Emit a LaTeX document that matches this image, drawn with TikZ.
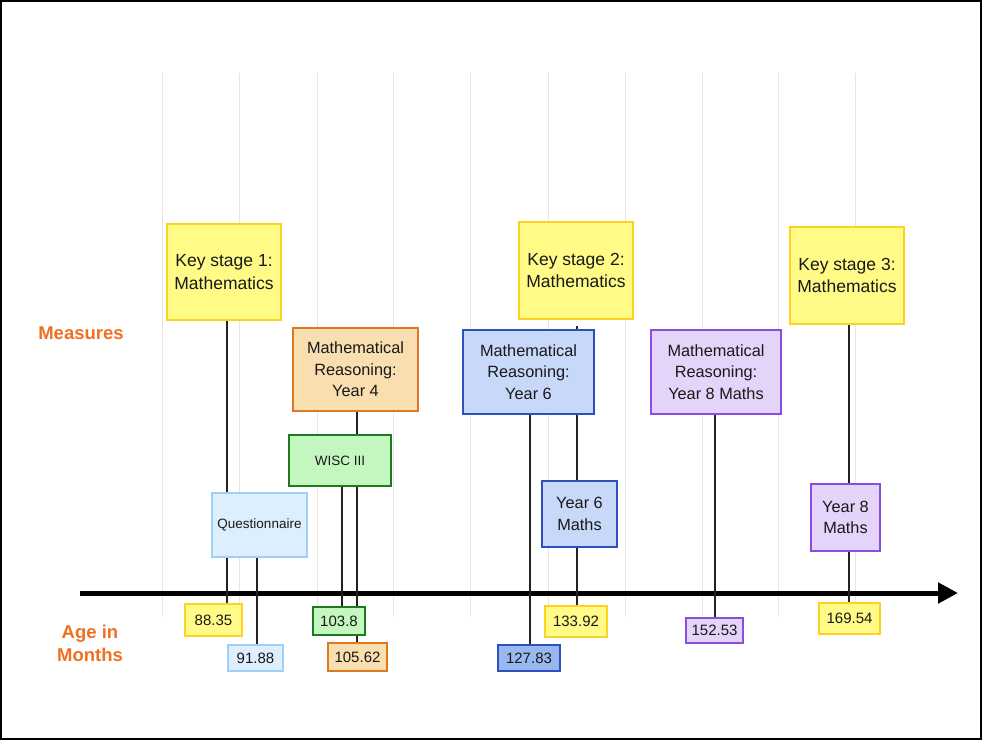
\documentclass[tikz,border=0pt]{standalone}
\usepackage{fontspec}
\setmainfont{Liberation Sans}
\usetikzlibrary{arrows.meta}
\pgfdeclarelayer{gridlayer}
\pgfdeclarelayer{background}
\pgfsetlayers{gridlayer,background,main}
\definecolor{yfill}{HTML}{FFFB86}
\definecolor{ydraw}{HTML}{FFD21F}
\definecolor{ofill}{HTML}{F9DFB0}
\definecolor{odraw}{HTML}{E07820}
\definecolor{gfill}{HTML}{C4F7C0}
\definecolor{gdraw}{HTML}{1E7A1E}
\definecolor{qfill}{HTML}{DDEEFF}
\definecolor{qdraw}{HTML}{9ED0F8}
\definecolor{bfill}{HTML}{C8D8F8}
\definecolor{bdraw}{HTML}{2E4FBF}
\definecolor{bdark}{HTML}{9AB8F0}
\definecolor{pfill}{HTML}{E4D4FA}
\definecolor{pdraw}{HTML}{8A4DE0}
\definecolor{otext}{HTML}{F07020}
\definecolor{gridc}{HTML}{E6E6E6}
\definecolor{linec}{HTML}{222222}
\tikzset{
  box/.style={draw, line width=1.5pt, inner sep=0pt, align=center, text=black!90},
  yellowbox/.style={box, fill=yfill, draw=ydraw},
  orangebox/.style={box, fill=ofill, draw=odraw},
  greenbox/.style={box, fill=gfill, draw=gdraw},
  qbox/.style={box, fill=qfill, draw=qdraw},
  bluebox/.style={box, fill=bfill, draw=bdraw},
  darkbluebox/.style={box, fill=bdark, draw=bdraw},
  purplebox/.style={box, fill=pfill, draw=pdraw},
  big/.style={font=\fontsize{17.5}{22.5}\selectfont},
  mid/.style={font=\fontsize{16.3}{21.5}\selectfont},
  small/.style={font=\fontsize{13.5}{16}\selectfont},
  num/.style={font=\fontsize{15}{18}\selectfont},
  stem/.style={draw=linec, line width=2pt},
  gridline/.style={draw=gridc, line width=1pt},
  axisline/.style={draw=black, line width=5pt, -{Triangle[length=20pt,width=20pt]}},
  sidelabel/.style={text=otext, font=\bfseries\fontsize{18.5}{23}\selectfont, align=center}
}
\begin{document}
\begin{tikzpicture}[x=1pt,y=-1pt]
\useasboundingbox (0,0) rectangle (982,740);
\begin{pgfonlayer}{gridlayer}
\fill[white] (0,0) rectangle (982,740);
\foreach \gx in {162,239,317,393,470,548,625,702,778,855}
  \draw[gridline] (\gx,73) -- (\gx,617);
\end{pgfonlayer}

% boxes
\node[yellowbox, big, minimum width=114, minimum height=96] (ks1) at (224,272) {Key stage 1:\\Mathematics};
\node[orangebox, mid, minimum width=125, minimum height=83] (mr4) at (355.5,369.5) {Mathematical\\Reasoning:\\Year 4};
\node[greenbox, small, minimum width=102, minimum height=51] (wisc) at (340,460.5) {WISC III};
\node[qbox, small, minimum width=95, minimum height=64] (quest) at (259.5,525) {Questionnaire};
\node[yellowbox, big, minimum width=114, minimum height=97] (ks2) at (576,270.5) {Key stage 2:\\Mathematics};
\node[bluebox, mid, minimum width=131, minimum height=84] (mr6) at (528.5,372) {Mathematical\\Reasoning:\\Year 6};
\node[bluebox, mid, minimum width=75, minimum height=66] (y6m) at (579.5,514) {Year 6\\Maths};
\node[purplebox, mid, minimum width=130, minimum height=84] (mr8) at (716,372) {Mathematical\\Reasoning:\\Year 8 Maths};
\node[yellowbox, big, minimum width=114, minimum height=97] (ks3) at (847,275.5) {Key stage 3:\\Mathematics};
\node[purplebox, mid, minimum width=69, minimum height=67] (y8m) at (845.5,517.5) {Year 8\\Maths};

% value boxes
\node[yellowbox, num, minimum width=57, minimum height=32] (n88) at (213.5,620) {88.35};
\node[qbox, num, minimum width=55, minimum height=26] (n91) at (255.5,658) {91.88};
\node[greenbox, num, minimum width=52, minimum height=28] (n103) at (339,621) {103.8};
\node[orangebox, num, minimum width=59, minimum height=28] (n105) at (357.5,657) {105.62};
\node[darkbluebox, num, minimum width=62, minimum height=26] (n127) at (529,658) {127.83};
\node[yellowbox, num, minimum width=62, minimum height=31] (n133) at (576,621.5) {133.92};
\node[purplebox, num, minimum width=57, minimum height=25] (n152) at (714.5,630.5) {152.53};
\node[yellowbox, num, minimum width=61, minimum height=31] (n169) at (849.5,618.5) {169.54};

% axis
\coordinate (axL) at (80,593);
\coordinate (axR) at (958,593);

\begin{pgfonlayer}{background}
\draw[axisline] (axL) -- (axR);
% KS1 -> 88.35 (passes behind Questionnaire)
\draw[stem] ([xshift=3pt]ks1.south) -- ([xshift=3pt]ks1.south |- n88.north);
% Questionnaire -> 91.88
\draw[stem] ([xshift=-2.5pt]quest.south) -- ([xshift=-2.5pt]quest.south |- n91.north);
% MR Year 4 -> 105.62 (passes behind WISC)
\draw[stem] ([xshift=1.5pt]mr4.south) -- ([xshift=1.5pt]mr4.south |- n105.north);
% WISC -> 103.8
\draw[stem] ([xshift=2pt]wisc.south) -- ([xshift=2pt]wisc.south |- n103.north);
% KS2 -> Year 6 Maths -> 133.92 (passes behind MR Year 6)
\draw[stem] ([xshift=1pt,yshift=-6pt]ks2.south) -- ([xshift=1pt]ks2.south |- n133.north);
% MR Year 6 -> 127.83
\draw[stem] ([xshift=1.5pt]mr6.south) -- ([xshift=1.5pt]mr6.south |- n127.north);
% MR Year 8 -> 152.53
\draw[stem] ([xshift=-1pt]mr8.south) -- ([xshift=-1pt]mr8.south |- n152.north);
% KS3 -> Year 8 Maths -> 169.54
\draw[stem] ([xshift=2pt]ks3.south) -- ([xshift=2pt]ks3.south |- n169.north);
\end{pgfonlayer}

% side labels
\node[sidelabel] (meas) at (81,333) {Measures};
\node[sidelabel] (age) at (90,643) {Age in\\Months};

% frame
\draw[line width=2pt] (1,1) rectangle (981,739);
\end{tikzpicture}
\end{document}
